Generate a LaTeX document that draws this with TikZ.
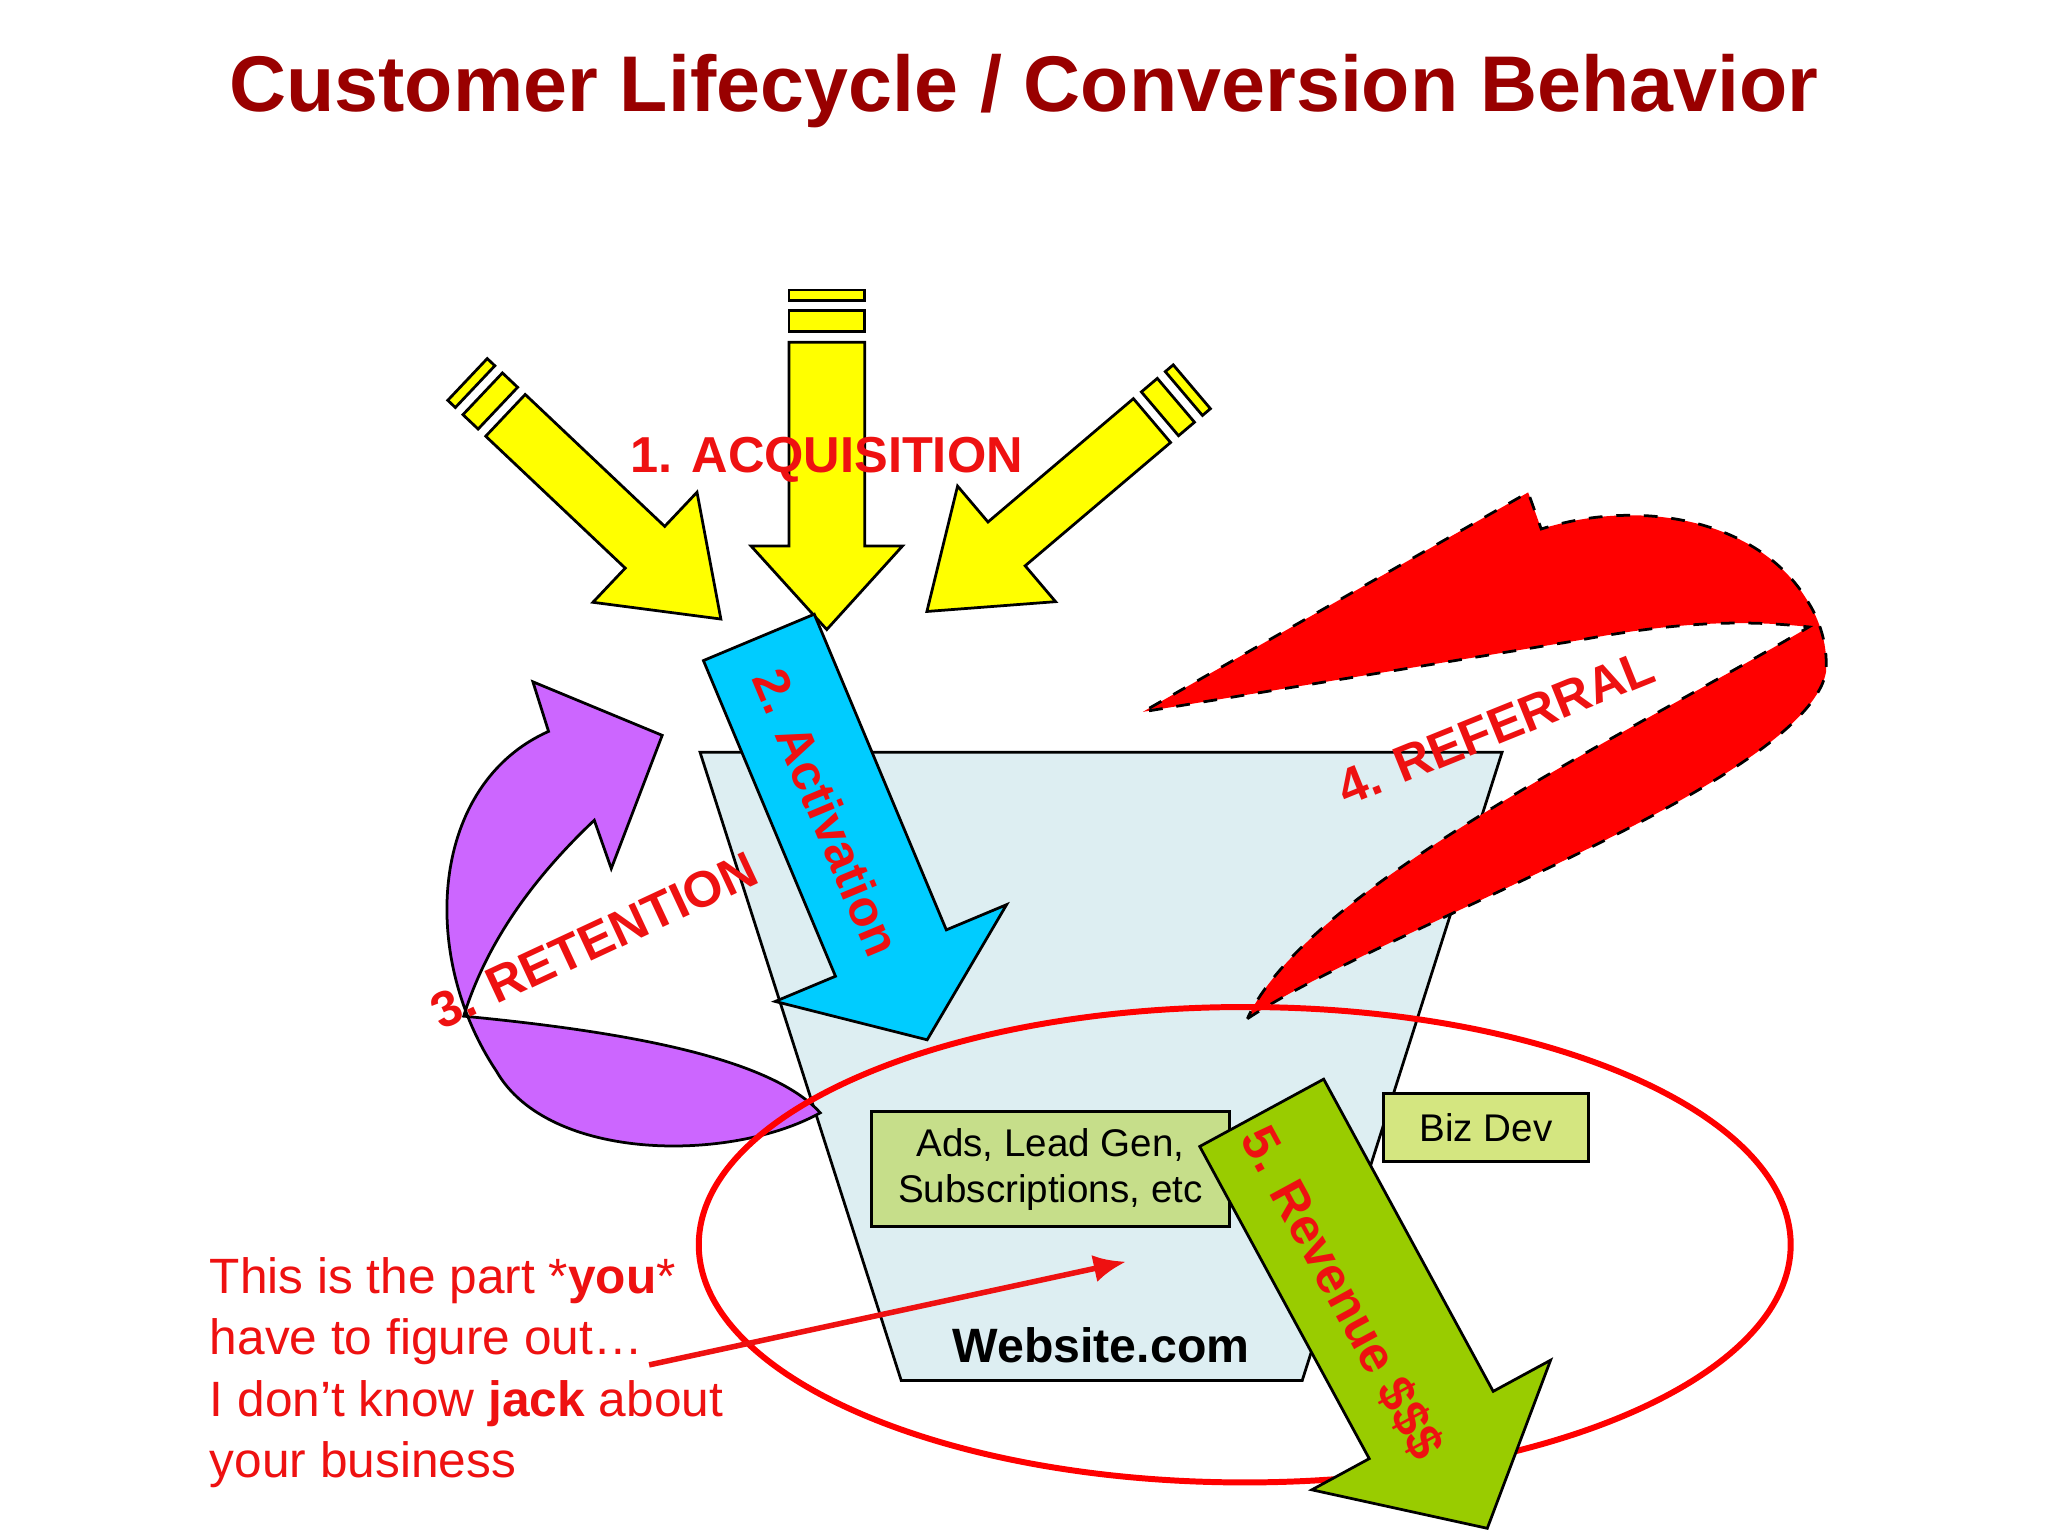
\documentclass[tikz,border=0pt]{standalone}
\usepackage{fontspec}
\setmainfont{Liberation Sans}
\usetikzlibrary{arrows.meta}
\definecolor{ttl}{HTML}{990000}
\definecolor{lbl}{HTML}{EE1111}
\definecolor{cup}{HTML}{DDEEF2}
\definecolor{ylw}{HTML}{FFFF00}
\definecolor{cyn}{HTML}{00CCFF}
\definecolor{grn}{HTML}{99CC00}
\definecolor{prp}{HTML}{CC66FF}
\definecolor{boxg}{HTML}{C6DE8A}
\definecolor{boxb}{HTML}{D4E680}
\tikzset{
  shp/.style={draw=black,line width=0.6pt,line join=miter},
  lab/.style={text=lbl,font=\bfseries\fontsize{11}{13}\selectfont,inner sep=0pt},
  box/.style={draw=black,line width=0.7pt,font=\fontsize{8.4}{10}\selectfont,align=center,inner sep=0pt,anchor=north west},
}
% #1 tail, #2 angle, #3 length, #4 shaft half, #5 head half, #6 head length, #7 style
\newcommand\fatarrow[7]{%
  \begin{scope}[shift={(#1)},rotate=#2]
   \draw[#7] (0,-#4) -- ({#3-#6},-#4) -- ({#3-#6},-#5) -- (#3,0) -- ({#3-#6},#5) -- ({#3-#6},#4) -- (0,#4) -- cycle;
  \end{scope}}
\newcommand\bars[4]{%
  \begin{scope}[shift={(#1)},rotate=#2]
   \draw[#4] (-24,-#3) rectangle (-8,#3);
   \draw[#4] (-40,-#3) rectangle (-32,#3);
  \end{scope}}
\begin{document}
\begin{tikzpicture}[x=0.01cm,y=-0.01cm]
\useasboundingbox[fill=white] (0,0) rectangle (1568,1176);
\node[text=ttl,font=\bfseries\fontsize{17.2}{20}\selectfont] (title) at (784,70) {Customer Lifecycle / Conversion Behavior};
% cup
\draw[shp,fill=cup] (536,576) -- (1150,576) -- (997,1057) -- (690,1057) -- cycle;
\node[font=\bfseries\fontsize{10.5}{12}\selectfont] (web) at (843,1030) {Website.com};
% yellow arrows
\fatarrow{633,262}{-90}{220}{29}{58}{64}{shp,fill=ylw}
\bars{633,262}{-90}{29}{shp,fill=ylw}
\fatarrow{387,318}{-43.4}{227}{22}{58}{80}{shp,fill=ylw}
\bars{387,318}{-43.4}{22}{shp,fill=ylw}
\fatarrow{882,322}{-139.7}{226}{22}{58}{80}{shp,fill=ylw}
\bars{882,322}{-139.7}{22}{shp,fill=ylw}
\node[lab] (acq) at (633,352) {1. ACQUISITION};
% purple retention
\draw[shp,fill=prp] (628,852) .. controls (560,890) and (420,890) .. (380,820)
  .. controls (320,730) and (330,600) .. (420,560) -- (408,522) -- (507,563) -- (468,665) -- (455,628)
  .. controls (400,680) and (370,730) .. (355,778)
  .. controls (480,790) and (590,810) .. (628,852) -- cycle;
\node[lab,rotate=25] (ret) at (455,720) {3. RETENTION};
% cyan activation
\fatarrow{581,488}{-67.3}{334}{46}{96}{72}{shp,fill=cyn}
\node[lab,rotate=-67.3] (act) at (633,622) {2. Activation};
% red referral
\draw[shp,dashed,fill=red] (955,780) .. controls (1060,710) and (1380,600) .. (1398,515)
  .. controls (1400,490) and (1390,470) .. (1385,462)
  .. controls (1350,400) and (1260,380) .. (1180,405) -- (1170,377) -- (875,545) -- (1210,490)
  .. controls (1290,475) and (1340,475) .. (1385,480)
  .. controls (1250,560) and (1000,680) .. (955,780) -- cycle;
\node[lab,rotate=22] (ref) at (1145,557) {4. REFERRAL};
% ellipse
\draw[red,line width=1.3pt] (953,953) ellipse [x radius=418,y radius=182];
% boxes
\node[box,fill=boxg,minimum width=274*0.01cm,minimum height=88*0.01cm] (ads) at (666,850) {Ads, Lead Gen,\\Subscriptions, etc};
\node[box,fill=boxb,minimum width=157*0.01cm,minimum height=52*0.01cm] (biz) at (1058,836) {Biz Dev};
% green revenue
\fatarrow{966,852}{-61.5}{362}{54}{104}{90}{shp,fill=grn}
\node[lab,rotate=-61.5] (rev) at (1028,990) {5. Revenue \$\$\$};
% bottom text
\node[text=lbl,font=\fontsize{10.8}{13.4}\selectfont,align=left,anchor=north west,inner sep=0pt] (note) at (160,962)
 {This is the part *\textbf{you}*\\have to figure out…\\I don’t know \textbf{jack} about\\your business};
\coordinate (a1) at (497,1045);
\coordinate (a2) at (862,966);
\draw[lbl,line width=1.2pt,-{Latex[length=7pt,width=6pt]}] (a1) -- (a2);
\end{tikzpicture}
\end{document}
